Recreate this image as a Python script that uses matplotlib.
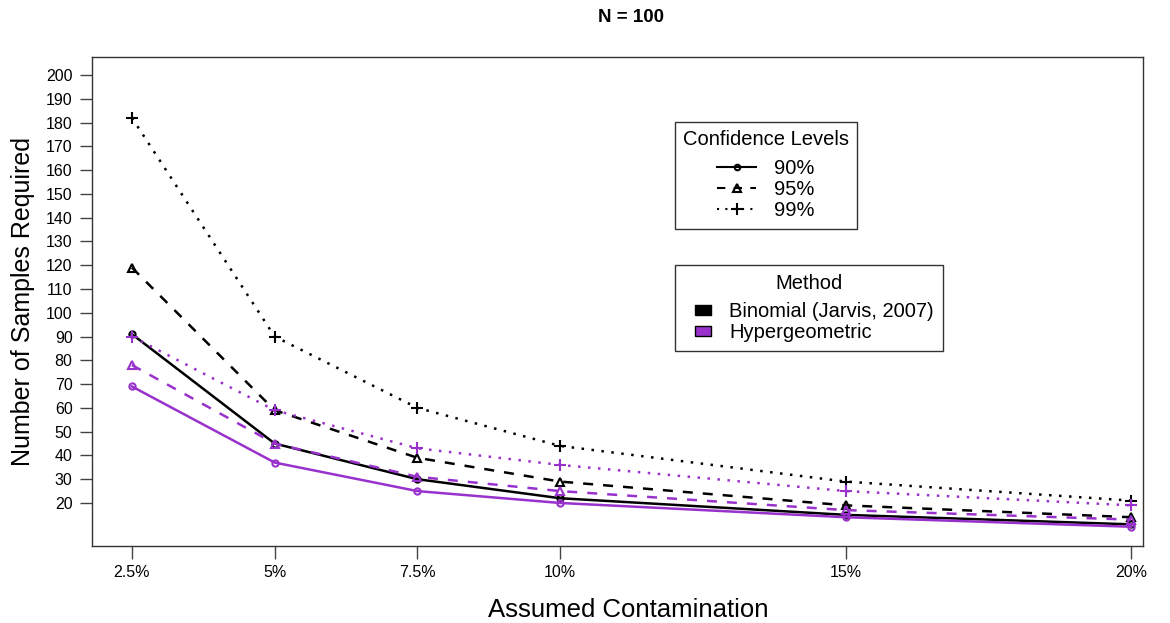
import matplotlib.pyplot as plt
from matplotlib.lines import Line2D

plt.rcParams['font.family'] = ['Liberation Sans', 'DejaVu Sans']

# contamination levels (%) and tick labels
contamination = [2.5, 5, 7.5, 10, 15, 20]
x_labels = ['2.5%', '5%', '7.5%', '10%', '15%', '20%']

# samples required, N = 100
binom_90 = [91, 45, 30, 22, 15, 11]
binom_95 = [119, 59, 39, 29, 19, 14]
binom_99 = [182, 90, 60, 44, 29, 21]
hyper_90 = [69, 37, 25, 20, 14, 10]
hyper_95 = [78, 45, 31, 25, 17, 13]
hyper_99 = [90, 59, 43, 36, 25, 19]

purple = '#9932CC'
styles = {
    '90%': dict(linestyle='-', marker='o', ms=4.5),
    '95%': dict(linestyle=(0, (4, 4)), marker='^', ms=6),
    '99%': dict(linestyle=(0, (1, 3)), marker='+', ms=9),
}

fig = plt.figure(figsize=(11.7, 6.23), dpi=100)
ax = fig.add_axes([92 / 1170, 1 - 546 / 623, (1143 - 92) / 1170, (546 - 57) / 623])

for color, series in [('black', [binom_90, binom_95, binom_99]),
                      (purple, [hyper_90, hyper_95, hyper_99])]:
    for level, y in zip(['90%', '95%', '99%'], series):
        st = styles[level]
        ax.plot(contamination, y, color=color, lw=1.8, linestyle=st['linestyle'],
                marker=st['marker'], markersize=st['ms'], markerfacecolor='none',
                markeredgecolor=color, markeredgewidth=1.5)

ax.set_xlim(1.8, 20.21)
ax.set_ylim(1.9, 207.6)
ax.set_xticks(contamination)
ax.set_xticklabels(x_labels)
ax.set_yticks(range(20, 201, 10))
ax.tick_params(labelsize=11.5, length=9, width=1, color='#444444', pad=5)
for s in ax.spines.values():
    s.set_linewidth(1)
    s.set_color('#333333')

ax.set_xlabel('Assumed Contamination', fontsize=18.5)
ax.xaxis.set_label_coords(0.51, -0.107)
ax.set_ylabel('Number of Samples Required', fontsize=18, labelpad=8)
fig.text(631 / 1170, 1 - 17 / 623, 'N = 100', ha='center', va='center',
         fontsize=13.5, fontweight='bold')

# legend: confidence levels
conf_handles = [Line2D([], [], color='black', lw=1.5, linestyle=styles[k]['linestyle'],
                       marker=styles[k]['marker'], markersize=styles[k]['ms'] - 0.5,
                       markerfacecolor='none', markeredgewidth=1.5)
                for k in ['90%', '95%', '99%']]
leg1 = fig.legend(conf_handles, ['90%', '95%', '99%'], title='Confidence Levels',
                  loc='upper left', bbox_to_anchor=(675 / 1170, 1 - 122 / 623),
                  borderaxespad=0, fontsize=14.5, title_fontsize=14.5, frameon=True,
                  fancybox=False, edgecolor='black', handlelength=1.94,
                  labelspacing=0.1, borderpad=0.4, handletextpad=0.9, alignment='center')
leg1.get_frame().set_linewidth(1)
leg1._legend_box.sep = 7.5

# legend: method (filled boxes)
box = [(-1.5, -1), (1.5, -1), (1.5, 1), (-1.5, 1), (-1.5, -1)]
method_handles = [Line2D([], [], linestyle='none', marker=box, markersize=11.5,
                         markerfacecolor=c, markeredgecolor='black', markeredgewidth=1)
                  for c in ['black', purple]]
leg2 = fig.legend(method_handles, ['Binomial (Jarvis, 2007)', 'Hypergeometric'], title='Method',
                  loc='upper left', bbox_to_anchor=(675 / 1170, 1 - 265 / 623),
                  borderaxespad=0, fontsize=14.5, title_fontsize=14.5, frameon=True,
                  fancybox=False, edgecolor='black', handlelength=1.84,
                  labelspacing=0.1, borderpad=0.45, handletextpad=0.4, alignment='center')
leg2.get_frame().set_linewidth(1)
leg2._legend_box.sep = 6.5

fig.savefig('out.png', dpi=100)
